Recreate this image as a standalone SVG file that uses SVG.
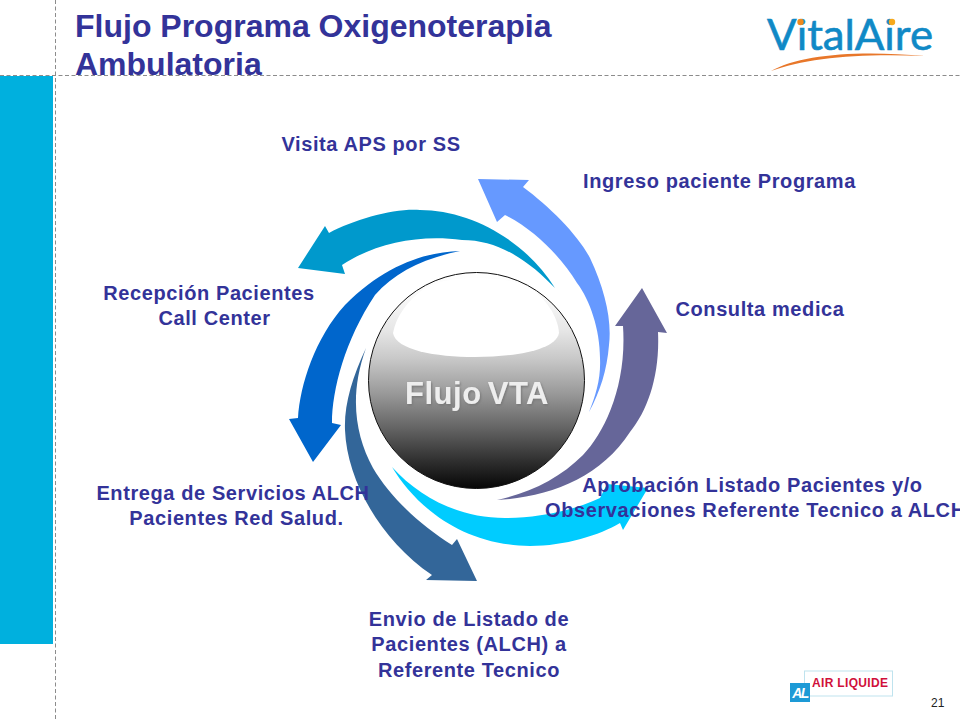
<svg xmlns="http://www.w3.org/2000/svg" width="960" height="720" viewBox="0 0 960 720">
<style>
text{font-family:"Liberation Sans",Arial,sans-serif}
.l{font-size:20px;font-weight:700;fill:#333399;letter-spacing:.6px;text-anchor:middle}
.t{font-size:32px;font-weight:700;fill:#333399}
.g{fill:none;stroke:#8c8c8c;stroke-width:1;stroke-dasharray:4 2.5}
</style>
<defs>
<linearGradient id="s" x1="0" y1="0" x2="0" y2="1">
<stop offset="0" stop-color="#ffffff"/><stop offset=".12" stop-color="#f8f8f8"/><stop offset=".27" stop-color="#e6e6e6"/><stop offset=".4" stop-color="#c8c8c8"/><stop offset=".56" stop-color="#999999"/><stop offset=".72" stop-color="#646464"/><stop offset=".87" stop-color="#303030"/><stop offset="1" stop-color="#060606"/>
</linearGradient>
<filter id="b" x="-10%" y="-20%" width="120%" height="140%"><feDropShadow dx="1" dy="1.500" stdDeviation="1" flood-color="#777"/></filter>
</defs>
<rect width="960" height="720" fill="#fff"/>
<g id="frame">
<rect x="0" y="76" width="53" height="568" fill="#00b0de"/>
<path class="g" d="M0 75.500H960M55.500 0V720"/>
</g>
<g id="title">
<text class="t" x="75" y="37">Flujo Programa Oxigenoterapia</text>
<text class="t" x="75" y="75">Ambulatoria</text>
</g>
<g id="connectors">
<path fill="#6699ff" d="M478 179L529 180L523 187C550 207 578 235 590 258C605 290 612 320 609 345C607 370 600 392 589 412C596 395 601 378 600 358C600 330 590 300 577 283C562 258 535 230 505 215L497 222Z"/>
<path fill="#0099cc" d="M298 268L325 226L329 233C355 219 395 208 420 210C470 210 525 240 555 288C530 262 500 240 462 240C420 234 375 243 342 265L345 274Z"/>
<path fill="#0066cc" d="M460 251C425 252 385 265 345 305C315 338 300 385 298 418L289 419L313 462L341 425L332 423C332 390 345 340 375 295C395 272 425 258 460 251Z"/>
<path fill="#336699" d="M366 348C352 378 344 405 345 430C347 480 380 540 432 575L426 580L477 581L457 539L452 545C420 525 390 497 373 468C355 435 349 395 366 348Z"/>
<path fill="#00ccff" d="M392 467C415 505 460 545 530 546C565 546 600 535 620 523L623 530L648 488L607 484L600 498C570 512 535 518 505 518C460 518 420 498 392 467Z"/>
<path fill="#666699" d="M642 288L667 333L658 332C660 375 648 410 630 432C600 478 550 497 497 500C530 493 560 478 583 455C605 432 627 385 623 326L615 326Z"/>
</g>
<g id="sphere">
<circle cx="476.500" cy="380.500" r="108" fill="url(#s)"/>
<path fill="#fff" d="M393 333C396 316 408 300 425 288C440 280 460 278 476 278C495 278 515 280 530 288C545 298 558 316 559 333C556 350 515 357 475 357C435 357 396 350 393 333Z"/>
<circle cx="476.500" cy="380.500" r="108" fill="none" stroke="#111" stroke-width="1"/>
<text x="477" y="404" font-size="31" font-weight="700" letter-spacing=".5" word-spacing="-3" text-anchor="middle" fill="#eeeeee" filter="url(#b)">Flujo VTA</text>
</g>
<g id="labels">
<text class="l" x="371" y="151">Visita APS por SS</text>
<text class="l" x="719.500" y="188">Ingreso paciente Programa</text>
<text class="l" x="760" y="316">Consulta medica</text>
<text class="l" x="209" y="300">Recepción Pacientes</text>
<text class="l" x="214.500" y="325">Call Center</text>
<text class="l" x="233" y="500">Entrega de Servicios ALCH</text>
<text class="l" x="236.500" y="525">Pacientes Red Salud.</text>
<text class="l" x="752.500" y="492">Aprobación Listado Pacientes y/o</text>
<text class="l" x="545" y="517" style="text-anchor:start">Observaciones Referente Tecnico a ALCH</text>
<text class="l" x="469" y="626">Envio de Listado de</text>
<text class="l" x="469" y="651">Pacientes (ALCH) a</text>
<text class="l" x="469" y="677">Referente Tecnico</text>
</g>
<g id="vitalaire">
<text x="767" y="50" font-size="42" fill="#1089c6" stroke="#1089c6" stroke-width=".6" textLength="166" lengthAdjust="spacingAndGlyphs" style="font-family:Lato,'Liberation Sans',sans-serif">VitalAire</text>
<circle cx="800.500" cy="22" r="3.200" fill="#ef8a1e"/>
<circle cx="892" cy="22" r="3.200" fill="#f7a81b"/>
<path fill="#e8772a" d="M771 71C800 54 860 50 925 56C860 53 805 58 771 71Z"/>
</g>
<g id="airliquide">
<rect x="804.500" y="671" width="88" height="25" fill="#fff" stroke="#bfe3ee"/>
<text x="812" y="687" font-size="12" font-weight="700" fill="#d0103a" textLength="76">AIR LIQUIDE</text>
<rect x="790" y="683" width="20" height="19" fill="#1d9ad6"/>
<text x="800" y="698" font-size="14" font-weight="700" font-style="italic" text-anchor="middle" fill="#fff" letter-spacing="-1.500">AL</text>
</g>
<text x="931" y="707" font-size="12" fill="#222">21</text>
</svg>
